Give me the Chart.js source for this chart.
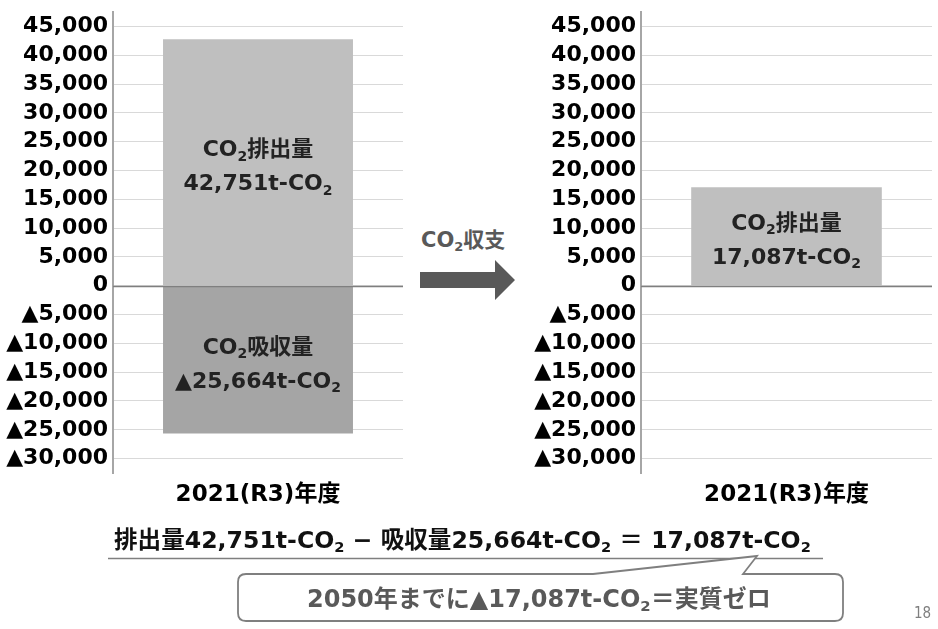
<!DOCTYPE html>
<html>
<head>
<meta charset="utf-8">
<script src="https://cdn.jsdelivr.net/npm/chart.js@4/dist/chart.umd.min.js"></script>
<style>
  body { margin: 0; background: #fff; }
  #page { position: relative; width: 938px; height: 629px; overflow: hidden; font-family: "DejaVu Sans", "Noto Sans CJK JP", sans-serif; }
  canvas { position: absolute; top: 0; }
  .txt { position: absolute; white-space: nowrap; font-weight: bold; }
  .sub { font-size: 0.62em; position: relative; top: 0.3em; }
</style>
</head>
<body>
<div id="page">
  <canvas id="left" width="403" height="510" style="left:0"></canvas>
  <canvas id="right" width="404" height="510" style="left:528px"></canvas>

  <div class="txt" id="flow" style="left:421px;top:223px;font-size:21px;color:#595959">CO<span class="sub">2</span>収支</div>
  <svg style="position:absolute;left:0;top:0" width="938" height="629">
    <polygon points="420,272 495,272 495,260 515,280 495,300 495,288 420,288" fill="#595959"/>
    <line x1="108" y1="558.5" x2="823" y2="558.5" stroke="#7f7f7f" stroke-width="1.5"/>
    <path d="M593,574 L757,556 L743,574 L835,574 Q843,574 843,582 L843,613 Q843,621 835,621 L246,621 Q238,621 238,613 L238,582 Q238,574 246,574 Z"
          fill="#fff" stroke="#7f7f7f" stroke-width="1.8"/>
  </svg>
  <div class="txt" id="eq" style="left:114px;top:521px;font-size:23.6px;color:#111">排出量42,751t-CO<span class="sub">2</span> − 吸収量25,664t-CO<span class="sub">2</span> ＝ 17,087t-CO<span class="sub">2</span></div>
  <div class="txt" id="call" style="left:307px;top:579px;font-size:24px;color:#595959">2050年までに▲17,087t-CO<span class="sub">2</span>＝実質ゼロ</div>
  <div class="txt" style="left:914px;top:604px;font-size:15px;font-weight:normal;color:#7f7f7f;font-family:'DejaVu Sans Condensed','DejaVu Sans'">18</div>
</div>
<script>
const categories = ['2021(R3)年度'];
const emission = [42751];
const absorption = [-25664];
const balance = [17087];
const yTicks = [45000, 40000, 35000, 30000, 25000, 20000, 15000, 10000, 5000, 0,
  -5000, -10000, -15000, -20000, -25000, -30000];

const FONT = '"DejaVu Sans", "Noto Sans CJK JP", sans-serif';

function fmt(v) {
  const s = Math.abs(v).toLocaleString('en-US');
  return v < 0 ? '▲' + s : s;
}

// draw text pieces, pieces with sub:true get the subscript look
function drawRich(ctx, parts, cx, cy, size) {
  const main = 'bold ' + size + 'px ' + FONT;
  const small = 'bold ' + Math.round(size * 0.62) + 'px ' + FONT;
  let w = 0;
  parts.forEach(p => { ctx.font = p.sub ? small : main; w += ctx.measureText(p.t).width; });
  let x = cx - w / 2;
  ctx.textAlign = 'left';
  ctx.textBaseline = 'middle';
  parts.forEach(p => {
    ctx.font = p.sub ? small : main;
    ctx.fillText(p.t, x, p.sub ? cy + size * 0.3 : cy);
    x += ctx.measureText(p.t).width;
  });
}

const barLabels = {
  id: 'barLabels',
  afterDatasetsDraw(chart) {
    const ctx = chart.ctx;
    const y = chart.scales.y;
    const area = chart.chartArea;
    // zero line sits over the bars
    ctx.save();
    ctx.strokeStyle = '#7f7f7f';
    ctx.lineWidth = 1.5;
    ctx.beginPath();
    ctx.moveTo(area.left, Math.round(y.getPixelForValue(0)) + 0.5);
    ctx.lineTo(area.right, Math.round(y.getPixelForValue(0)) + 0.5);
    ctx.stroke();
    ctx.fillStyle = '#222';
    chart.data.datasets.forEach((ds, i) => {
      chart.getDatasetMeta(i).data.forEach((bar, j) => {
        const v = ds.data[j];
        const cy = (bar.y + bar.base) / 2 + 5;
        drawRich(ctx, [{ t: 'CO' }, { t: '2', sub: true }, { t: ds.label }], bar.x, cy - 17, 22);
        drawRich(ctx, [{ t: fmt(v) + 't-CO' }, { t: '2', sub: true }], bar.x, cy + 17, 22);
      });
    });
    ctx.restore();
  }
};

function makeChart(id, datasets) {
  return new Chart(document.getElementById(id), {
    type: 'bar',
    data: { labels: categories, datasets: datasets },
    plugins: [barLabels],
    options: {
      responsive: false,
      animation: false,
      layout: { padding: { top: 12, left: 0, right: 0, bottom: 0 } },
      plugins: { legend: { display: false }, tooltip: { enabled: false } },
      datasets: { bar: { categoryPercentage: 1, barPercentage: 0.655 } },
      scales: {
        x: {
          stacked: true,
          grid: { display: false },
          border: { display: false },
          ticks: { color: '#000', padding: 0, font: { family: FONT, size: 23, weight: 'bold' } },
          afterFit: s => { s.height = 37; s.paddingLeft = 0; s.paddingRight = 0; }
        },
        y: {
          stacked: true,
          min: -32500,
          max: 47500,
          afterBuildTicks: s => { s.ticks = yTicks.map(v => ({ value: v })); },
          afterFit: s => { s.width = 113; s.paddingTop = 0; s.paddingBottom = 0; },
          grid: { color: '#d9d9d9', drawTicks: false },
          border: { color: '#a6a6a6', width: 2 },
          ticks: {
            color: '#000',
            padding: 5,
            font: { family: FONT, size: 22, weight: 'bold' },
            callback: v => v === 0 ? '0' : fmt(v)
          }
        }
      }
    }
  });
}

makeChart('left', [
  { label: '排出量', data: emission, backgroundColor: '#bfbfbf' },
  { label: '吸収量', data: absorption, backgroundColor: '#a5a5a5' }
]);
makeChart('right', [
  { label: '排出量', data: balance, backgroundColor: '#bfbfbf' }
]);
</script>
</body>
</html>
